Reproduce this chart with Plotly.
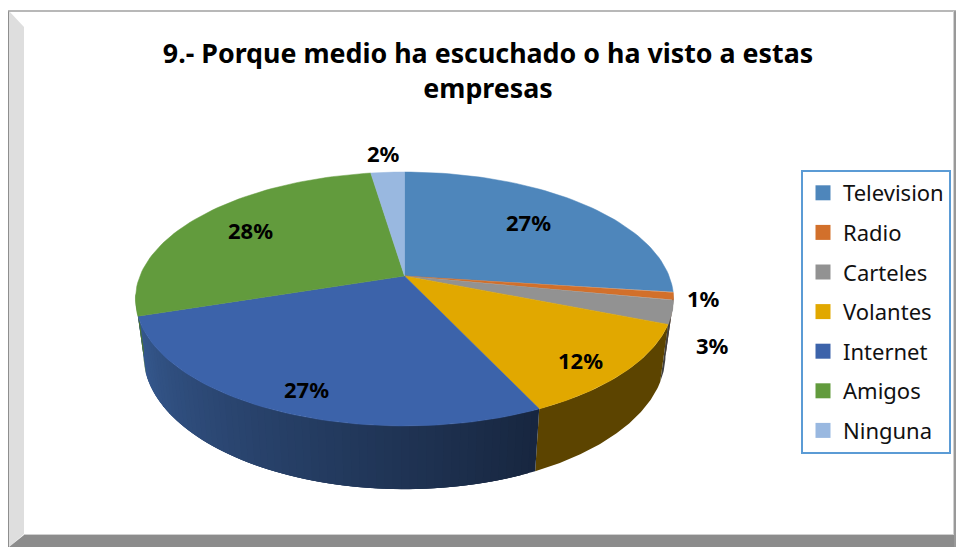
import math

import plotly.graph_objects as go

# chart values
categories = ["Television", "Radio", "Carteles", "Volantes", "Internet", "Amigos", "Ninguna"]
shares = [27.0, 1.0, 3.0, 12.0, 27.0, 27.6, 2.4]

top_colors = ["#4E86BB", "#D2702B", "#929292", "#E1A800", "#3C63AA", "#629B3D", "#99B8E0"]
# side wall colours, at the start and end of each slice (clockwise)
side_from = ["#2F5070", "#6D3A16", "#404040", "#5C4400", "#17263F", "#4A7530", "#5C6E86"]
side_to = ["#2F5070", "#6D3A16", "#404040", "#5C4400", "#36598F", "#4A7530", "#5C6E86"]

title_text = "9.- Porque medio ha escuchado o ha visto a estas<br>empresas"
label_font = dict(family="Noto Sans", size=22, color="#000000")

# where the percent labels sit, in page pixels
label_x = [528, 703, 712, 580, 306, 250, 383]
label_y = [222, 298, 345, 360, 389, 230, 153]

# tilted pie: pixels of the apex, and the perspective of the disc
APEX_X, APEX_Y = 404.5, 276
RX, RY, TILT = 264.6, 122.8, 0.181
# bottom rim is a scaled copy of the top rim
BOTTOM_SHRINK, BOTTOM_Y, BOTTOM_STRETCH = 0.97, 331, 1.055
# the wall is only visible between these clock angles
SIDE_START, SIDE_END = 97.0, 262.0


def top_point(deg):
    u, v = math.sin(math.radians(deg)), math.cos(math.radians(deg))
    den = 1 + TILT * v
    return APEX_X + RX * u / den, APEX_Y - RY * v / den


def bottom_point(deg):
    x, y = top_point(deg)
    return APEX_X + (x - APEX_X) * BOTTOM_SHRINK, BOTTOM_Y + (y - APEX_Y) * BOTTOM_STRETCH


def mix(c1, c2, t):
    a = [int(c1[i:i + 2], 16) for i in (1, 3, 5)]
    b = [int(c2[i:i + 2], 16) for i in (1, 3, 5)]
    return "rgb(%d,%d,%d)" % tuple(round(p + (q - p) * t) for p, q in zip(a, b))


fig = go.Figure()

total = sum(shares)
edges = [0.0]
for s in shares:
    edges.append(edges[-1] + s / total * 360)

# side walls first, the top faces go over them
for i, cat in enumerate(categories):
    a0, a1 = max(edges[i], SIDE_START), min(edges[i + 1], SIDE_END)
    if a1 <= a0:
        continue
    # flat walls need one strip only, the shaded one gets many
    n = 1 if side_from[i] == side_to[i] else int((a1 - a0) / 1.5)
    for k in range(n):
        d0 = a0 + (a1 - a0) * k / n
        # each strip runs under the next one so no seam shows
        d1 = a0 + (a1 - a0) * min(k + 3, n) / n
        m = max(4, int(d1 - d0) * 2)
        steps = [d0 + (d1 - d0) * j / m for j in range(m + 1)]
        xs, ys = [], []
        for d in steps:
            x, y = top_point(d)
            xs.append(x)
            ys.append(y)
        for d in reversed(steps):
            x, y = bottom_point(d)
            xs.append(x)
            ys.append(y)
        col = mix(side_from[i], side_to[i], (k + 0.5) / n)
        fig.add_trace(go.Scatter(
            x=xs, y=ys, mode="lines", fill="toself", fillcolor=col,
            line=dict(width=0), showlegend=False, hoverinfo="skip",
        ))

for i, cat in enumerate(categories):
    steps = [edges[i] + (edges[i + 1] - edges[i]) * j / 60 for j in range(61)]
    pts = [top_point(d) for d in steps]
    fig.add_trace(go.Scatter(
        x=[APEX_X] + [p[0] for p in pts] + [APEX_X],
        y=[APEX_Y] + [p[1] for p in pts] + [APEX_Y],
        mode="lines", fill="toself", fillcolor=top_colors[i],
        line=dict(color=top_colors[i], width=0.5),
        showlegend=False, name=cat, hoverinfo="name",
    ))

# legend entries
for i, cat in enumerate(categories):
    fig.add_trace(go.Scatter(
        x=[None], y=[None], mode="markers", name=cat, legendgroup=cat,
        marker=dict(symbol="square", size=15, color=top_colors[i]),
    ))

for i, s in enumerate(shares):
    fig.add_annotation(
        x=label_x[i], y=label_y[i], text="<b>%d%%</b>" % round(s / total * 100),
        showarrow=False, font=label_font,
    )

# frame of the chart: bevels on the left, bottom and right
frame = [
    ("M 9 27 L 24 27 L 24 534 L 9 547 Z", "#DEDEDE"),
    ("M 9 11 L 24 27 L 9 27 Z", "#DEDEDE"),
    ("M 24 535 L 956 535 L 956 547 L 9 547 Z", "#8C8C8C"),
    ("M 954 11 L 956 11 L 956 547 L 954 547 Z", "#999999"),
]
shapes = [dict(type="path", path=p, fillcolor=c, line_width=0, layer="below") for p, c in frame]
shapes += [
    dict(type="line", x0=8.5, x1=8.5, y0=11, y1=547, line=dict(color="#8E8E8E", width=1), layer="below"),
    dict(type="line", x0=8, x1=956, y0=11, y1=11, line=dict(color="#A0A0A0", width=1.5), layer="below"),
    dict(type="line", x0=24, x1=953, y0=534.5, y1=534.5, line=dict(color="#D0D0D0", width=1), layer="below"),
    dict(type="line", x0=953.5, x1=953.5, y0=11, y1=535, line=dict(color="#D0D0D0", width=1), layer="below"),
]

fig.update_layout(
    width=956,
    height=547,
    margin=dict(l=0, r=0, t=0, b=0),
    paper_bgcolor="white",
    plot_bgcolor="white",
    font=dict(family="Noto Sans", color="#000000"),
    title=dict(
        text="<b>%s</b>" % title_text,
        font=dict(family="Noto Sans", size=26.8, color="#000000"),
        x=488 / 956, xanchor="center", xref="paper",
        y=1 - 63 / 547, yanchor="top",
    ),
    xaxis=dict(range=[0, 956], visible=False, fixedrange=True),
    yaxis=dict(range=[547, 0], visible=False, fixedrange=True),
    shapes=shapes,
    showlegend=True,
    legend=dict(
        x=801 / 956, xanchor="left",
        y=1 - 170 / 547, yanchor="top",
        bordercolor="#5B9BD5", borderwidth=2, bgcolor="white",
        font=dict(family="Noto Sans", size=22, color="#111111"),
        tracegroupgap=8,
        traceorder="grouped",
        entrywidth=108,
        entrywidthmode="pixels",
    ),
)

fig.write_html(
    "out.html",
    config=dict(displayModeBar=False),
    post_script="document.body.style.margin='0';",
)
